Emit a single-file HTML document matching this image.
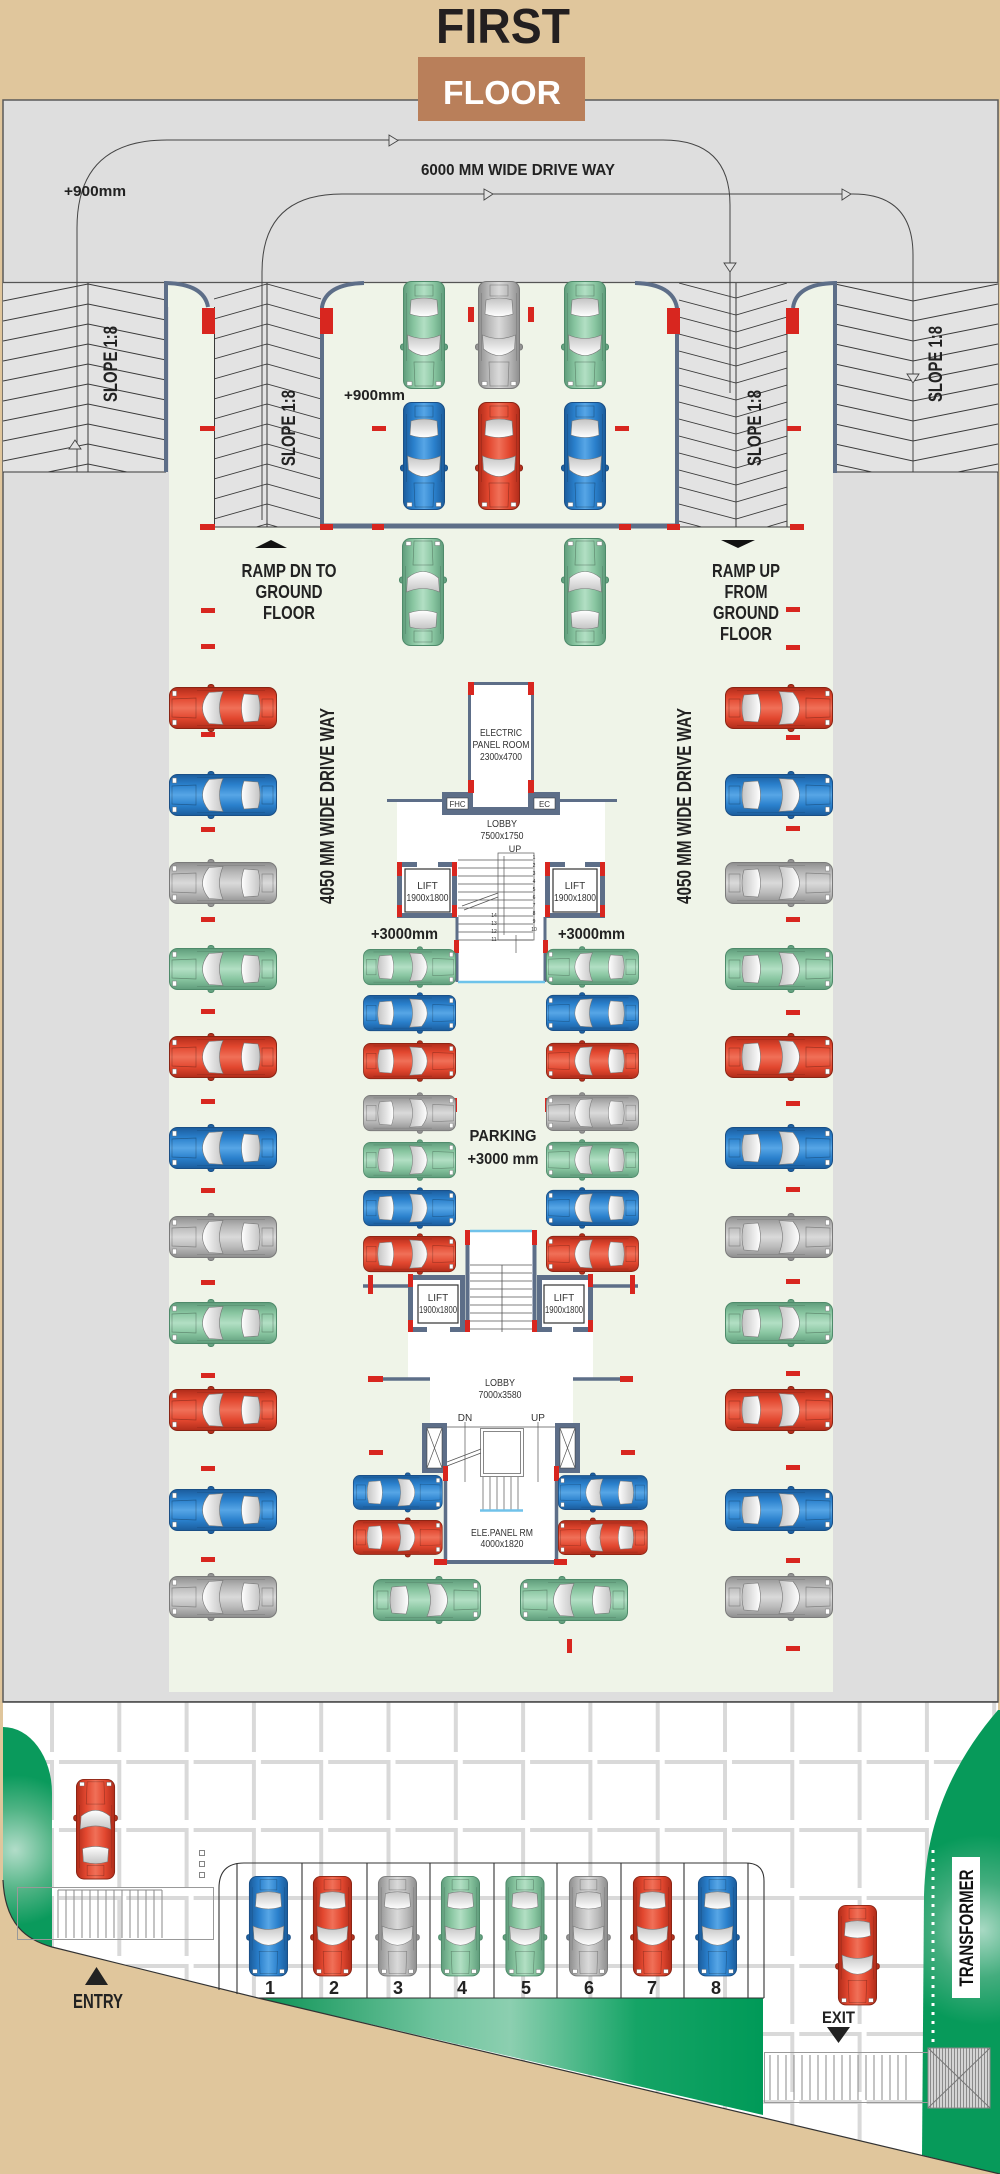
<!DOCTYPE html>
<html><head><meta charset="utf-8"><style>
html,body{margin:0;padding:0;background:#e0c69c;}
svg{display:block;}
text{font-family:"Liberation Sans",Arial,Helvetica,sans-serif;}
.b{font-weight:bold;}
</style></head><body>
<svg width="1000" height="2174" viewBox="0 0 1000 2174" xmlns="http://www.w3.org/2000/svg">
<defs>
<linearGradient id="gR" x1="0" y1="0" x2="1" y2="0"><stop offset="0" stop-color="#b02c1a"/><stop offset=".25" stop-color="#e2472f"/><stop offset=".5" stop-color="#f07058"/><stop offset=".75" stop-color="#e2472f"/><stop offset="1" stop-color="#b02c1a"/></linearGradient>
<linearGradient id="gB" x1="0" y1="0" x2="1" y2="0"><stop offset="0" stop-color="#1b5c9c"/><stop offset=".25" stop-color="#2a80cc"/><stop offset=".5" stop-color="#57a6e6"/><stop offset=".75" stop-color="#2a80cc"/><stop offset="1" stop-color="#1b5c9c"/></linearGradient>
<linearGradient id="gG" x1="0" y1="0" x2="1" y2="0"><stop offset="0" stop-color="#8e8e8e"/><stop offset=".25" stop-color="#b9b9b9"/><stop offset=".5" stop-color="#dadada"/><stop offset=".75" stop-color="#b9b9b9"/><stop offset="1" stop-color="#8e8e8e"/></linearGradient>
<linearGradient id="gN" x1="0" y1="0" x2="1" y2="0"><stop offset="0" stop-color="#5f9c7b"/><stop offset=".25" stop-color="#88c5a0"/><stop offset=".5" stop-color="#b2dfc4"/><stop offset=".75" stop-color="#88c5a0"/><stop offset="1" stop-color="#5f9c7b"/></linearGradient>
<linearGradient id="gW" x1="0" y1="0" x2="0" y2="1"><stop offset="0" stop-color="#ffffff"/><stop offset="1" stop-color="#c4c4c4"/></linearGradient>
<linearGradient id="gBand" x1="258" y1="0" x2="763" y2="0" gradientUnits="userSpaceOnUse"><stop offset="0" stop-color="#0b9254"/><stop offset=".35" stop-color="#70c49e"/><stop offset=".5" stop-color="#8ccfb0"/><stop offset=".75" stop-color="#15a466"/><stop offset="1" stop-color="#009a58"/></linearGradient>
<radialGradient id="gLeft" cx="15" cy="1850" r="75" gradientUnits="userSpaceOnUse"><stop offset="0" stop-color="#b2ddc9"/><stop offset=".55" stop-color="#4fb384"/><stop offset="1" stop-color="#0a9a5c"/></radialGradient>
<radialGradient id="gRight" cx="982" cy="1930" r="95" gradientUnits="userSpaceOnUse"><stop offset="0" stop-color="#a8d9c3"/><stop offset=".5" stop-color="#44ad7e"/><stop offset="1" stop-color="#079a5a"/></radialGradient>
<pattern id="pOL" patternUnits="userSpaceOnUse" x="3" y="282" width="163" height="20"><path d="M0,19 L85,2 L163,18" fill="none" stroke="#3a3a3a" stroke-width=".9"/></pattern>
<pattern id="pIL" patternUnits="userSpaceOnUse" x="214" y="282" width="107" height="20"><path d="M0,17 L53,2 L107,17" fill="none" stroke="#3a3a3a" stroke-width=".9"/></pattern>
<pattern id="pIR" patternUnits="userSpaceOnUse" x="679" y="282" width="108" height="17"><path d="M0,1 L57,16 L108,1" fill="none" stroke="#3a3a3a" stroke-width=".9"/></pattern>
<pattern id="pOR" patternUnits="userSpaceOnUse" x="835" y="282" width="163" height="20"><path d="M0,2 L78,19 L163,2" fill="none" stroke="#3a3a3a" stroke-width=".9"/></pattern>
<pattern id="grid" patternUnits="userSpaceOnUse" x="-13.3" y="1692" width="67.3" height="68"><rect x="5" y="0" width="58.3" height="4" fill="#d9d9d9"/><rect x="63.3" y="0" width="4" height="60" fill="#d9d9d9"/></pattern>
<pattern id="hT" patternUnits="userSpaceOnUse" x="0" y="0" width="3" height="3"><rect width="3" height="3" fill="#d4d4d4"/><rect width="1" height="3" fill="#8a8a8a"/></pattern>
<g id="car">
<rect x="-2.5" y="39" width="47" height="6" rx="2.5"/>
<rect x="0.5" y="0.5" width="41" height="107" rx="8"/>
<path d="M12,3 H30 L31,27 H11 Z" fill="none" stroke="#000" stroke-opacity=".3" stroke-width=".7"/>
<rect x="4" y="3.5" width="5" height="4" fill="#fff" stroke="#666" stroke-width=".4"/>
<rect x="33" y="3.5" width="5" height="4" fill="#fff" stroke="#666" stroke-width=".4"/>
<path d="M4.5,54 L5.5,40 Q21,27 36.5,40 L37.5,54 Q21,47 4.5,54 Z" fill="url(#gW)" stroke="#777" stroke-width=".6"/>
<path d="M7,75 Q21,70 35,75 L34,89 Q21,93 8,89 Z" fill="url(#gW)" stroke="#777" stroke-width=".6"/>
<rect x="12" y="93" width="18" height="11" fill="none" stroke="#000" stroke-opacity=".3" stroke-width=".7"/>
<path d="M3.5,28 V96 M38.5,28 V96" fill="none" stroke="#000" stroke-opacity=".2" stroke-width=".6"/>
</g>
</defs>

<!-- background -->
<rect x="0" y="0" width="1000" height="2174" fill="#e0c69c"/>
<rect x="3" y="100" width="995" height="1602" fill="#dedede" stroke="#5a5a5a" stroke-width="1.5"/>

<!-- bottom white paved area -->
<path d="M3,1702 L998,1702 L998,2174 L1000,2174 L258,1998 L52,1947 C27,1940 5,1925 3,1880 Z" fill="#ffffff"/>
<path d="M3,1702 L998,1702 L998,2174 L1000,2174 L258,1998 L52,1947 C27,1940 5,1925 3,1880 Z" fill="url(#grid)"/>
<line x1="3" y1="1702" x2="998" y2="1702" stroke="#444" stroke-width="1.5"/>

<!-- light green floor -->
<rect x="169" y="282" width="664" height="1410" fill="#eff4e8"/>

<!-- ramps -->
<rect x="3" y="282" width="163" height="190" fill="#e3e3e3"/>
<rect x="3" y="282" width="163" height="190" fill="url(#pOL)"/>
<rect x="214" y="282" width="107" height="245" fill="#e3e3e3"/>
<rect x="214" y="282" width="107" height="245" fill="url(#pIL)"/>
<rect x="679" y="282" width="108" height="245" fill="#e3e3e3"/>
<rect x="679" y="282" width="108" height="245" fill="url(#pIR)"/>
<rect x="835" y="282" width="163" height="190" fill="#e3e3e3"/>
<rect x="835" y="282" width="163" height="190" fill="url(#pOR)"/>
<rect x="166" y="282" width="48" height="25" fill="#e3e3e3"/>
<rect x="321" y="282" width="43" height="25" fill="#e3e3e3"/>
<rect x="635" y="282" width="44" height="26" fill="#e3e3e3"/>
<rect x="787" y="282" width="48" height="26" fill="#e3e3e3"/>
<path d="M166,283 Q204,284 208,307 L166,307 Z" fill="#eff4e8"/>
<path d="M364,283 Q326,284 322,307 L364,307 Z" fill="#eff4e8"/>
<path d="M635,283 Q673,284 677,308 L635,308 Z" fill="#eff4e8"/>
<path d="M835,283 Q796,284 793,308 L835,308 Z" fill="#eff4e8"/>
<g stroke="#3a3a3a" stroke-width="1" fill="none">
<line x1="88" y1="282" x2="88" y2="472"/>
<line x1="267" y1="282" x2="267" y2="527"/>
<line x1="736" y1="282" x2="736" y2="527"/>
<line x1="3" y1="472" x2="166" y2="472"/>
<line x1="835" y1="472" x2="998" y2="472"/>
<line x1="214.5" y1="307" x2="214.5" y2="527"/>
<line x1="787" y1="308" x2="787" y2="527"/>
<line x1="200" y1="527" x2="322" y2="527"/>
<line x1="677" y1="527" x2="804" y2="527"/>
</g>
<line x1="3" y1="282.5" x2="998" y2="282.5" stroke="#555" stroke-width="1.2"/>

<!-- drive path lines -->
<g fill="none" stroke="#444" stroke-width="1">
<path d="M77,472 L77,228 Q77,140 167,140 L663,140 Q730,140 730,205 L730,393"/>
<path d="M262,520 L262,272 Q262,194 342,194 L853,194 Q913,194 913,255 L913,472"/>
</g>
<g fill="#e2e2e2" stroke="#444" stroke-width=".9">
<polygon points="75,440 69,449 81,449"/>
<polygon points="389,135 398,140.5 389,146"/>
<polygon points="724,263 736,263 730,272"/>
<polygon points="484,189 493,194 484,200"/>
<polygon points="842,189 851,194 842,200"/>
<polygon points="907,374 919,374 913,383"/>
</g>

<!-- walls -->
<g fill="none" stroke="#5d6e88" stroke-width="4">
<path d="M208,307 Q204,284 166,283 L166,472"/>
<path d="M364,283 Q326,284 322,307 L322,527"/>
<path d="M635,283 Q673,284 677,308 L677,527"/>
<path d="M793,308 Q796,284 835,283 L835,473"/>
<line x1="322" y1="526" x2="677" y2="526" stroke-width="5"/>
</g>

<!-- red marks top -->
<g fill="#d8261f">
<rect x="202" y="308" width="13" height="26"/><rect x="320" y="308" width="13" height="26"/>
<rect x="667" y="308" width="13" height="26"/><rect x="786" y="308" width="13" height="26"/>
<rect x="200" y="426" width="15" height="5"/><rect x="372" y="426" width="14" height="5"/>
<rect x="615" y="426" width="14" height="5"/><rect x="787" y="426" width="14" height="5"/>
<rect x="468" y="307" width="6" height="15"/><rect x="528" y="307" width="6" height="15"/>
<rect x="200" y="524" width="15" height="6"/><rect x="320" y="524" width="13" height="6"/>
<rect x="372" y="524" width="12" height="6"/><rect x="619" y="524" width="12" height="6"/>
<rect x="667" y="524" width="13" height="6"/><rect x="790" y="524" width="14" height="6"/>
<!-- outer wall dashes left -->
<rect x="201" y="608" width="14" height="5"/><rect x="201" y="644" width="14" height="5"/>
<rect x="201" y="732" width="14" height="5"/><rect x="201" y="827" width="14" height="5"/>
<rect x="201" y="917" width="14" height="5"/><rect x="201" y="1009" width="14" height="5"/>
<rect x="201" y="1099" width="14" height="5"/><rect x="201" y="1188" width="14" height="5"/>
<rect x="201" y="1280" width="14" height="5"/><rect x="201" y="1373" width="14" height="5"/>
<rect x="201" y="1466" width="14" height="5"/><rect x="201" y="1557" width="14" height="5"/>
<!-- right -->
<rect x="786" y="607" width="14" height="5"/><rect x="786" y="645" width="14" height="5"/>
<rect x="786" y="735" width="14" height="5"/><rect x="786" y="826" width="14" height="5"/>
<rect x="786" y="917" width="14" height="5"/><rect x="786" y="1010" width="14" height="5"/>
<rect x="786" y="1101" width="14" height="5"/><rect x="786" y="1187" width="14" height="5"/>
<rect x="786" y="1279" width="14" height="5"/><rect x="786" y="1371" width="14" height="5"/>
<rect x="786" y="1465" width="14" height="5"/><rect x="786" y="1558" width="14" height="5"/>
<rect x="786" y="1646" width="14" height="5"/>
<!-- inner -->
<rect x="453" y="1098" width="4" height="14"/><rect x="545" y="1098" width="4" height="14"/>
<rect x="369" y="1450" width="14" height="5"/><rect x="621" y="1450" width="14" height="5"/>
<rect x="567" y="1639" width="5" height="14"/>
</g>

<!-- TOP CORE -->
<rect x="397" y="802" width="208" height="115" fill="#fff"/>
<rect x="457" y="917" width="88" height="65" fill="#fff"/>
<rect x="469.5" y="683.5" width="63" height="125" fill="#fff" stroke="#5d6e88" stroke-width="3"/>
<line x1="387" y1="800.5" x2="442" y2="800.5" stroke="#5d6e88" stroke-width="3"/>
<line x1="560" y1="800.5" x2="617" y2="800.5" stroke="#5d6e88" stroke-width="3"/>
<rect x="442" y="792" width="31" height="23" fill="#5d6e88"/>
<rect x="528" y="792" width="32" height="23" fill="#5d6e88"/>
<rect x="442" y="808" width="118" height="7" fill="#5d6e88"/>
<rect x="447" y="798" width="21" height="11" fill="#fff" stroke="#333" stroke-width=".5"/>
<rect x="534" y="798" width="21" height="11" fill="#fff" stroke="#333" stroke-width=".5"/>
<g fill="#d8261f">
<rect x="468" y="682" width="6" height="13"/><rect x="528" y="682" width="6" height="13"/>
<rect x="468" y="780" width="6" height="13"/><rect x="528" y="780" width="6" height="13"/>
</g>
<!-- lifts top -->
<rect x="399.5" y="864.5" width="55" height="51" fill="#fff" stroke="#5d6e88" stroke-width="5"/>
<rect x="417" y="861" width="21" height="6" fill="#fff"/>
<rect x="405" y="869" width="45" height="43" fill="#fff" stroke="#333" stroke-width="1.2"/>
<rect x="547.5" y="864.5" width="55" height="51" fill="#fff" stroke="#5d6e88" stroke-width="5"/>
<rect x="565" y="861" width="20" height="6" fill="#fff"/>
<rect x="553" y="869" width="44" height="43" fill="#fff" stroke="#333" stroke-width="1.2"/>
<!-- stair top -->
<g stroke="#555" stroke-width=".7" fill="none">
<path d="M458,860H533M458,868H533M458,876H533M458,884H533M458,892H533M458,900H533M458,908H533M458,916H533M458,924H533M458,932H533M458,940H533"/>
<rect x="498" y="853" width="36" height="87"/>
<line x1="504" y1="856" x2="504" y2="935"/>
<line x1="516" y1="935" x2="516" y2="953"/>
<path d="M462,906 L498,893 M464,910 L498,897"/>
</g>
<line x1="457" y1="917" x2="457" y2="982" stroke="#5d6e88" stroke-width="3"/>
<line x1="545" y1="917" x2="545" y2="982" stroke="#5d6e88" stroke-width="3"/>
<line x1="458" y1="982" x2="545" y2="982" stroke="#6ec3ea" stroke-width="2.5"/>
<g fill="#d8261f">
<rect x="397" y="862" width="5" height="14"/><rect x="452" y="862" width="5" height="14"/>
<rect x="397" y="905" width="5" height="12"/><rect x="452" y="905" width="5" height="12"/>
<rect x="545" y="862" width="5" height="14"/><rect x="600" y="862" width="5" height="14"/>
<rect x="545" y="905" width="5" height="12"/><rect x="600" y="905" width="5" height="12"/>
<rect x="454" y="940" width="5" height="13"/><rect x="543" y="940" width="5" height="13"/>
</g>
<g font-size="5" fill="#333" text-anchor="middle">
<text x="534" y="859">1</text><text x="534" y="867">2</text><text x="534" y="875">3</text><text x="534" y="883">4</text><text x="534" y="891">5</text><text x="534" y="899">6</text><text x="534" y="907">7</text><text x="534" y="915">8</text><text x="534" y="923">9</text><text x="534" y="931">10</text>
<text x="494" y="917">14</text><text x="494" y="925">13</text><text x="494" y="933">12</text><text x="494" y="941">11</text>
</g>

<!-- LOWER CORE -->
<rect x="467" y="1230" width="68" height="102" fill="#fff"/>
<rect x="408" y="1332" width="185" height="47" fill="#fff"/>
<rect x="430" y="1378" width="143" height="46" fill="#fff"/>
<rect x="447" y="1423" width="108" height="140" fill="#fff"/>
<line x1="467.5" y1="1230" x2="467.5" y2="1332" stroke="#5d6e88" stroke-width="4"/>
<line x1="534.5" y1="1230" x2="534.5" y2="1332" stroke="#5d6e88" stroke-width="4"/>
<line x1="470" y1="1231" x2="532" y2="1231" stroke="#70c2ea" stroke-width="2.5"/>
<g stroke="#555" stroke-width=".8" fill="none">
<path d="M470,1265H532M470,1273H532M470,1281H532M470,1289H532M470,1297H532M470,1305H532M470,1313H532M470,1321H532M470,1329H532"/>
<line x1="502" y1="1265" x2="502" y2="1332"/>
</g>
<rect x="410.5" y="1277.5" width="52" height="52" fill="#fff" stroke="#5d6e88" stroke-width="5"/>
<rect x="427" y="1327" width="23" height="6" fill="#fff"/>
<rect x="418" y="1285" width="40" height="38" fill="#fff" stroke="#333" stroke-width="1.2"/>
<rect x="539.5" y="1277.5" width="51" height="52" fill="#fff" stroke="#5d6e88" stroke-width="5"/>
<rect x="552" y="1327" width="21" height="6" fill="#fff"/>
<rect x="544" y="1285" width="40" height="38" fill="#fff" stroke="#333" stroke-width="1.2"/>
<g stroke="#5d6e88" stroke-width="3.5">
<line x1="363" y1="1286" x2="408" y2="1286"/><line x1="593" y1="1286" x2="638" y2="1286"/>
<line x1="368" y1="1379" x2="430" y2="1379"/><line x1="573" y1="1379" x2="633" y2="1379"/>
<line x1="445.5" y1="1473" x2="445.5" y2="1563"/><line x1="556.5" y1="1473" x2="556.5" y2="1563"/>
<line x1="434" y1="1562" x2="567" y2="1562" stroke-width="4"/>
</g>
<rect x="422" y="1423" width="25" height="50" fill="#5d6e88"/>
<rect x="555" y="1423" width="25" height="50" fill="#5d6e88"/>
<rect x="427" y="1428" width="15" height="40" fill="#fff" stroke="#333" stroke-width=".5"/>
<rect x="560" y="1428" width="15" height="40" fill="#fff" stroke="#333" stroke-width=".5"/>
<g stroke="#555" stroke-width=".7" fill="none">
<path d="M427,1428 L442,1468 M442,1428 L427,1468 M560,1428 L575,1468 M575,1428 L560,1468"/>
<line x1="447" y1="1427" x2="555" y2="1427"/>
<line x1="465" y1="1422" x2="465" y2="1482"/>
<line x1="538" y1="1422" x2="538" y2="1482"/>
<rect x="480.5" y="1428.5" width="43" height="48"/>
<rect x="483.5" y="1431.5" width="37" height="42"/>
<path d="M447,1462 L481,1449 M447,1466 L481,1453"/>
<path d="M483,1477V1510M490,1477V1510M497,1477V1510M504,1477V1510M511,1477V1510M518,1477V1510"/>
</g>
<line x1="480" y1="1510.5" x2="523" y2="1510.5" stroke="#70c2ea" stroke-width="2.5"/>
<g fill="#d8261f">
<rect x="465" y="1230" width="5" height="15"/><rect x="532" y="1230" width="5" height="15"/>
<rect x="408" y="1274" width="5" height="13"/><rect x="588" y="1274" width="5" height="13"/>
<rect x="408" y="1320" width="5" height="12"/><rect x="588" y="1320" width="5" height="12"/>
<rect x="465" y="1320" width="5" height="12"/><rect x="532" y="1320" width="5" height="12"/>
<rect x="368" y="1275" width="5" height="19"/><rect x="630" y="1275" width="5" height="19"/>
<rect x="368" y="1376" width="15" height="6"/><rect x="620" y="1376" width="13" height="6"/>
<rect x="443" y="1466" width="5" height="15"/><rect x="554" y="1466" width="5" height="15"/>
<rect x="434" y="1559" width="13" height="6"/><rect x="554" y="1559" width="13" height="6"/>
</g>

<!-- CARS -->
<!-- top bay -->
<use href="#car" fill="url(#gN)" stroke="#4e8a6a" transform="translate(445,389) rotate(180)"/>
<use href="#car" fill="url(#gG)" stroke="#7a7a7a" transform="translate(520,389) rotate(180)"/>
<use href="#car" fill="url(#gN)" stroke="#4e8a6a" transform="translate(606,389) rotate(180)"/>
<use href="#car" fill="url(#gB)" stroke="#1a4f86" transform="translate(445,510) rotate(180)"/>
<use href="#car" fill="url(#gR)" stroke="#8a2414" transform="translate(520,510) rotate(180)"/>
<use href="#car" fill="url(#gB)" stroke="#1a4f86" transform="translate(606,510) rotate(180)"/>
<use href="#car" fill="url(#gN)" stroke="#4e8a6a" transform="translate(402,538)"/>
<use href="#car" fill="url(#gN)" stroke="#4e8a6a" transform="translate(564,538)"/>
<!-- outer left column -->
<use href="#car" fill="url(#gR)" stroke="#8a2414" transform="translate(169,729) rotate(-90)"/>
<use href="#car" fill="url(#gB)" stroke="#1a4f86" transform="translate(169,816) rotate(-90)"/>
<use href="#car" fill="url(#gG)" stroke="#7a7a7a" transform="translate(169,904) rotate(-90)"/>
<use href="#car" fill="url(#gN)" stroke="#4e8a6a" transform="translate(169,990) rotate(-90)"/>
<use href="#car" fill="url(#gR)" stroke="#8a2414" transform="translate(169,1078) rotate(-90)"/>
<use href="#car" fill="url(#gB)" stroke="#1a4f86" transform="translate(169,1169) rotate(-90)"/>
<use href="#car" fill="url(#gG)" stroke="#7a7a7a" transform="translate(169,1258) rotate(-90)"/>
<use href="#car" fill="url(#gN)" stroke="#4e8a6a" transform="translate(169,1344) rotate(-90)"/>
<use href="#car" fill="url(#gR)" stroke="#8a2414" transform="translate(169,1431) rotate(-90)"/>
<use href="#car" fill="url(#gB)" stroke="#1a4f86" transform="translate(169,1531) rotate(-90)"/>
<use href="#car" fill="url(#gG)" stroke="#7a7a7a" transform="translate(169,1618) rotate(-90)"/>
<!-- outer right column -->
<use href="#car" fill="url(#gR)" stroke="#8a2414" transform="translate(833,687) rotate(90)"/>
<use href="#car" fill="url(#gB)" stroke="#1a4f86" transform="translate(833,774) rotate(90)"/>
<use href="#car" fill="url(#gG)" stroke="#7a7a7a" transform="translate(833,862) rotate(90)"/>
<use href="#car" fill="url(#gN)" stroke="#4e8a6a" transform="translate(833,948) rotate(90)"/>
<use href="#car" fill="url(#gR)" stroke="#8a2414" transform="translate(833,1036) rotate(90)"/>
<use href="#car" fill="url(#gB)" stroke="#1a4f86" transform="translate(833,1127) rotate(90)"/>
<use href="#car" fill="url(#gG)" stroke="#7a7a7a" transform="translate(833,1216) rotate(90)"/>
<use href="#car" fill="url(#gN)" stroke="#4e8a6a" transform="translate(833,1302) rotate(90)"/>
<use href="#car" fill="url(#gR)" stroke="#8a2414" transform="translate(833,1389) rotate(90)"/>
<use href="#car" fill="url(#gB)" stroke="#1a4f86" transform="translate(833,1489) rotate(90)"/>
<use href="#car" fill="url(#gG)" stroke="#7a7a7a" transform="translate(833,1576) rotate(90)"/>
<!-- inner left column -->
<use href="#car" fill="url(#gN)" stroke="#4e8a6a" transform="translate(456,949) rotate(90) scale(.86)"/>
<use href="#car" fill="url(#gB)" stroke="#1a4f86" transform="translate(456,995) rotate(90) scale(.86)"/>
<use href="#car" fill="url(#gR)" stroke="#8a2414" transform="translate(456,1043) rotate(90) scale(.86)"/>
<use href="#car" fill="url(#gG)" stroke="#7a7a7a" transform="translate(456,1095) rotate(90) scale(.86)"/>
<use href="#car" fill="url(#gN)" stroke="#4e8a6a" transform="translate(456,1142) rotate(90) scale(.86)"/>
<use href="#car" fill="url(#gB)" stroke="#1a4f86" transform="translate(456,1190) rotate(90) scale(.86)"/>
<use href="#car" fill="url(#gR)" stroke="#8a2414" transform="translate(456,1236) rotate(90) scale(.86)"/>
<!-- inner right column -->
<use href="#car" fill="url(#gN)" stroke="#4e8a6a" transform="translate(546,985) rotate(-90) scale(.86)"/>
<use href="#car" fill="url(#gB)" stroke="#1a4f86" transform="translate(546,1031) rotate(-90) scale(.86)"/>
<use href="#car" fill="url(#gR)" stroke="#8a2414" transform="translate(546,1079) rotate(-90) scale(.86)"/>
<use href="#car" fill="url(#gG)" stroke="#7a7a7a" transform="translate(546,1131) rotate(-90) scale(.86)"/>
<use href="#car" fill="url(#gN)" stroke="#4e8a6a" transform="translate(546,1178) rotate(-90) scale(.86)"/>
<use href="#car" fill="url(#gB)" stroke="#1a4f86" transform="translate(546,1226) rotate(-90) scale(.86)"/>
<use href="#car" fill="url(#gR)" stroke="#8a2414" transform="translate(546,1272) rotate(-90) scale(.86)"/>
<!-- lower core cars -->
<use href="#car" fill="url(#gB)" stroke="#1a4f86" transform="translate(442.6,1475) rotate(90) scale(.83)"/>
<use href="#car" fill="url(#gR)" stroke="#8a2414" transform="translate(442.6,1520) rotate(90) scale(.83)"/>
<use href="#car" fill="url(#gB)" stroke="#1a4f86" transform="translate(558,1510) rotate(-90) scale(.83)"/>
<use href="#car" fill="url(#gR)" stroke="#8a2414" transform="translate(558,1555) rotate(-90) scale(.83)"/>
<use href="#car" fill="url(#gN)" stroke="#4e8a6a" transform="translate(481,1579) rotate(90)"/>
<use href="#car" fill="url(#gN)" stroke="#4e8a6a" transform="translate(520,1621) rotate(-90)"/>

<!-- BOTTOM SECTION -->
<path d="M3,1727 A49,66 0 0 1 52,1793 L52,1947 C27,1940 5,1925 3,1880 Z" fill="url(#gLeft)"/>
<path d="M258,1998 L763,1998 L763,2115 Z" fill="url(#gBand)"/>
<path d="M998,1710 C955,1760 926,1820 924,1895 L922,2155 L1000,2174 L1000,1710 Z" fill="url(#gRight)"/>
<path d="M3,1880 C5,1925 27,1940 52,1947 L258,1998 L1000,2174" fill="none" stroke="#333" stroke-width="1.2"/>

<!-- entry ramp -->
<rect x="17.5" y="1887.5" width="196" height="52" fill="none" stroke="#999" stroke-width="1"/>
<g stroke="#8a8a8a" stroke-width="1">
<path d="M58,1890V1938M66,1890V1938M74,1890V1938M82,1890V1938M90,1890V1938M98,1890V1938M106,1890V1938M114,1890V1938M122,1890V1938M130,1890V1938M138,1890V1938M146,1890V1938M154,1890V1938M162,1890V1938"/>
<line x1="58" y1="1890" x2="162" y2="1890"/>
</g>
<g fill="#fff" stroke="#666" stroke-width=".8">
<rect x="199.5" y="1850.5" width="5" height="5"/><rect x="199.5" y="1861.5" width="5" height="5"/><rect x="199.5" y="1872.5" width="5" height="5"/>
</g>
<use href="#car" fill="url(#gR)" stroke="#8a2414" transform="translate(76,1779) scale(.93)"/>
<polygon points="85,1985 108,1985 96.5,1967" fill="#222"/>
<text x="98" y="2008" class="b" font-size="20" text-anchor="middle" textLength="50" lengthAdjust="spacingAndGlyphs" fill="#222">ENTRY</text>

<!-- numbered bays -->
<g fill="none" stroke="#333" stroke-width="1.1">
<path d="M219,1990 L219,1888 Q219,1863 244,1863 L746,1863 Q764,1863 764,1881 L764,1998"/>
<line x1="258" y1="1998" x2="764" y2="1998"/>
<path d="M237,1863V1994M302,1863V1998M367,1863V1998M430,1863V1998M494,1863V1998M557,1863V1998M621,1863V1998M684,1863V1998M748,1863V1998"/>
</g>
<use href="#car" fill="url(#gB)" stroke="#1a4f86" transform="translate(288,1976.4) rotate(180) scale(.93)"/>
<use href="#car" fill="url(#gR)" stroke="#8a2414" transform="translate(352,1976.4) rotate(180) scale(.93)"/>
<use href="#car" fill="url(#gG)" stroke="#7a7a7a" transform="translate(417,1976.4) rotate(180) scale(.93)"/>
<use href="#car" fill="url(#gN)" stroke="#4e8a6a" transform="translate(480,1976.4) rotate(180) scale(.93)"/>
<use href="#car" fill="url(#gN)" stroke="#4e8a6a" transform="translate(544.5,1976.4) rotate(180) scale(.93)"/>
<use href="#car" fill="url(#gG)" stroke="#7a7a7a" transform="translate(608,1976.4) rotate(180) scale(.93)"/>
<use href="#car" fill="url(#gR)" stroke="#8a2414" transform="translate(672,1976.4) rotate(180) scale(.93)"/>
<use href="#car" fill="url(#gB)" stroke="#1a4f86" transform="translate(737,1976.4) rotate(180) scale(.93)"/>
<g class="b" font-size="18" fill="#222" text-anchor="middle">
<text x="270" y="1994" class="b">1</text><text x="334" y="1994" class="b">2</text><text x="398" y="1994" class="b">3</text><text x="462" y="1994" class="b">4</text>
<text x="526" y="1994" class="b">5</text><text x="589" y="1994" class="b">6</text><text x="652" y="1994" class="b">7</text><text x="716" y="1994" class="b">8</text>
</g>

<!-- exit -->
<use href="#car" fill="url(#gR)" stroke="#8a2414" transform="translate(877,2005.4) rotate(180) scale(.93)"/>
<text x="838.5" y="2023" class="b" font-size="17" text-anchor="middle" textLength="33" lengthAdjust="spacingAndGlyphs" fill="#222">EXIT</text>
<polygon points="827,2027 850,2027 838.5,2043" fill="#222"/>
<rect x="764.5" y="2052.5" width="164" height="50" fill="none" stroke="#999" stroke-width="1"/>
<path d="M770,2055V2100M778,2055V2100M786,2055V2100M794,2055V2100M802,2055V2100M810,2055V2100M818,2055V2100M826,2055V2100M834,2055V2100M842,2055V2100M850,2055V2100M858,2055V2100M866,2055V2100M874,2055V2100M882,2055V2100M890,2055V2100M898,2055V2100M906,2055V2100" stroke="#8a8a8a" stroke-width="1"/>
<!-- transformer -->
<line x1="933" y1="1850" x2="933" y2="2042" stroke="#fff" stroke-width="3" stroke-dasharray="3 6"/>
<rect x="952" y="1857" width="28" height="141" fill="#fff"/>
<text transform="translate(966,1928) rotate(-90)" class="b" font-size="19" text-anchor="middle" dy="7" textLength="117" lengthAdjust="spacingAndGlyphs" fill="#111">TRANSFORMER</text>
<rect x="928" y="2048" width="62" height="60" fill="url(#hT)" stroke="#888" stroke-width="1"/>
<path d="M928,2048 L990,2108 M990,2048 L928,2108" stroke="#777" stroke-width="1"/>

<!-- TITLE -->
<text x="503" y="43" class="b" font-size="49" text-anchor="middle" textLength="134" lengthAdjust="spacingAndGlyphs" fill="#231f20">FIRST</text>
<rect x="418" y="57" width="167" height="64" fill="#b97f5a"/>
<text x="502" y="104" class="b" font-size="33" text-anchor="middle" textLength="118" lengthAdjust="spacingAndGlyphs" fill="#fff">FLOOR</text>

<!-- LABELS -->
<g class="b" fill="#222">
<text x="518" y="175" class="b" font-size="16" text-anchor="middle" textLength="194" lengthAdjust="spacingAndGlyphs">6000 MM WIDE DRIVE WAY</text>
<text x="64" y="196" class="b" font-size="15" textLength="62" lengthAdjust="spacingAndGlyphs">+900mm</text>
<text x="344" y="400" class="b" font-size="15" textLength="61" lengthAdjust="spacingAndGlyphs">+900mm</text>
<text transform="translate(110,364) rotate(-90)" class="b" font-size="19" text-anchor="middle" dy="7" textLength="76" lengthAdjust="spacingAndGlyphs">SLOPE 1:8</text>
<text transform="translate(288,428) rotate(-90)" class="b" font-size="19" text-anchor="middle" dy="7" textLength="76" lengthAdjust="spacingAndGlyphs">SLOPE 1:8</text>
<text transform="translate(754,428) rotate(-90)" class="b" font-size="19" text-anchor="middle" dy="7" textLength="76" lengthAdjust="spacingAndGlyphs">SLOPE 1:8</text>
<text transform="translate(935,364) rotate(-90)" class="b" font-size="19" text-anchor="middle" dy="7" textLength="76" lengthAdjust="spacingAndGlyphs">SLOPE 1:8</text>
<text x="289" y="577" class="b" font-size="18" text-anchor="middle" textLength="95" lengthAdjust="spacingAndGlyphs">RAMP DN TO</text>
<text x="289" y="598" class="b" font-size="18" text-anchor="middle" textLength="67" lengthAdjust="spacingAndGlyphs">GROUND</text>
<text x="289" y="619" class="b" font-size="18" text-anchor="middle" textLength="52" lengthAdjust="spacingAndGlyphs">FLOOR</text>
<text x="746" y="577" class="b" font-size="18" text-anchor="middle" textLength="68" lengthAdjust="spacingAndGlyphs">RAMP UP</text>
<text x="746" y="598" class="b" font-size="18" text-anchor="middle" textLength="43" lengthAdjust="spacingAndGlyphs">FROM</text>
<text x="746" y="619" class="b" font-size="18" text-anchor="middle" textLength="66" lengthAdjust="spacingAndGlyphs">GROUND</text>
<text x="746" y="640" class="b" font-size="18" text-anchor="middle" textLength="52" lengthAdjust="spacingAndGlyphs">FLOOR</text>
<text transform="translate(327,806) rotate(-90)" class="b" font-size="20" text-anchor="middle" dy="7" textLength="196" lengthAdjust="spacingAndGlyphs">4050 MM WIDE DRIVE WAY</text>
<text transform="translate(684,806) rotate(-90)" class="b" font-size="20" text-anchor="middle" dy="7" textLength="196" lengthAdjust="spacingAndGlyphs">4050 MM WIDE DRIVE WAY</text>
<text x="371" y="939" class="b" font-size="16" textLength="67" lengthAdjust="spacingAndGlyphs">+3000mm</text>
<text x="558" y="939" class="b" font-size="16" textLength="67" lengthAdjust="spacingAndGlyphs">+3000mm</text>
<text x="503" y="1141" class="b" font-size="16" text-anchor="middle" textLength="67" lengthAdjust="spacingAndGlyphs">PARKING</text>
<text x="503" y="1164" class="b" font-size="16" text-anchor="middle" textLength="71" lengthAdjust="spacingAndGlyphs">+3000 mm</text>
</g>
<polygon points="255,548 287,548 271,540" fill="#111"/>
<polygon points="721,540 755,540 738,548" fill="#111"/>

<g fill="#333" font-size="10" text-anchor="middle">
<text x="501" y="736" textLength="42" lengthAdjust="spacingAndGlyphs">ELECTRIC</text>
<text x="501" y="748" textLength="57" lengthAdjust="spacingAndGlyphs">PANEL ROOM</text>
<text x="501" y="760" textLength="42" lengthAdjust="spacingAndGlyphs">2300x4700</text>
<text x="457.5" y="807" font-size="8" textLength="16" lengthAdjust="spacingAndGlyphs">FHC</text>
<text x="544.5" y="807" font-size="8">EC</text>
<text x="502" y="827" textLength="30" lengthAdjust="spacingAndGlyphs">LOBBY</text>
<text x="502" y="839" textLength="43" lengthAdjust="spacingAndGlyphs">7500x1750</text>
<text x="515" y="852" font-size="9">UP</text>
<text x="427.5" y="889">LIFT</text>
<text x="427.5" y="901" textLength="42" lengthAdjust="spacingAndGlyphs">1900x1800</text>
<text x="575" y="889">LIFT</text>
<text x="575" y="901" textLength="42" lengthAdjust="spacingAndGlyphs">1900x1800</text>
<text x="438" y="1301">LIFT</text>
<text x="438" y="1313" textLength="38" lengthAdjust="spacingAndGlyphs">1900x1800</text>
<text x="564" y="1301">LIFT</text>
<text x="564" y="1313" textLength="38" lengthAdjust="spacingAndGlyphs">1900x1800</text>
<text x="500" y="1386" textLength="30" lengthAdjust="spacingAndGlyphs">LOBBY</text>
<text x="500" y="1398" textLength="43" lengthAdjust="spacingAndGlyphs">7000x3580</text>
<text x="465" y="1421">DN</text>
<text x="538" y="1421">UP</text>
<text x="502" y="1536" textLength="62" lengthAdjust="spacingAndGlyphs">ELE.PANEL RM</text>
<text x="502" y="1547" textLength="43" lengthAdjust="spacingAndGlyphs">4000x1820</text>
</g>
</svg>
</body></html>
